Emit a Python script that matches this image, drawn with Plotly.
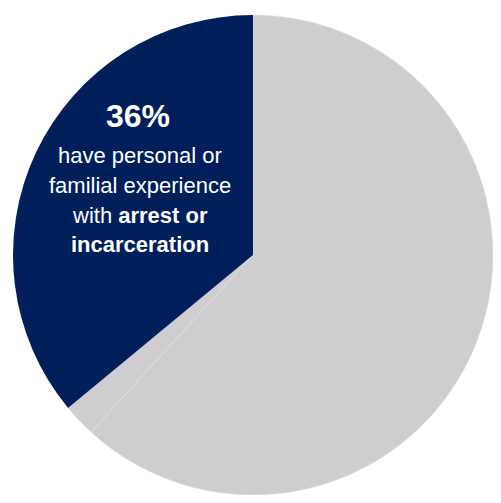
import plotly.graph_objects as go

labels = ["No experience", "Other", "Arrest or incarceration"]
values = [61.8, 2.2, 36]
colors = ["#cfcdcf", "#cfcdcf", "#001f5b"]

headline = "<b>36%</b>"
caption_lines = [
    "have personal or",
    "familial experience",
    "with <b>arrest or</b>",
    "<b>incarceration</b>",
]

# page has an 8px body margin; keep the figure inside the 501x503 window
W, H = 485, 487
L, T, SIDE = 5, 7, 480
font_family = "Arial, Liberation Sans, sans-serif"


def px_to_paper(sx, sy):
    # window pixel -> paper coords of the plot area
    return (sx - 8 - L) / SIDE, 1 - (sy - 8 - T) / SIDE


fig = go.Figure(go.Pie(
    labels=labels,
    values=values,
    sort=False,
    direction="clockwise",
    rotation=0,
    marker=dict(colors=colors, line=dict(color="#e2e0e2", width=[0.6, 0.6, 0])),
    textinfo="none",
    hoverinfo="label+percent",
    showlegend=False,
))

fig.update_layout(
    width=W, height=H,
    margin=dict(l=L, r=W - L - SIDE, t=T, b=H - T - SIDE),
    paper_bgcolor="white",
    font=dict(family=font_family),
)

x, y = px_to_paper(138, 116)
fig.add_annotation(
    x=x, y=y, xref="paper", yref="paper",
    xanchor="center", yanchor="middle",
    text=headline, showarrow=False,
    font=dict(family=font_family, size=32, color="white"),
)
for line, sy in zip(caption_lines, [156, 186, 215, 244]):
    x, y = px_to_paper(140, sy)
    fig.add_annotation(
        x=x, y=y, xref="paper", yref="paper",
        xanchor="center", yanchor="middle",
        text=line, showarrow=False,
        font=dict(family=font_family, size=22, color="white"),
    )

fig.write_html("out.html")
